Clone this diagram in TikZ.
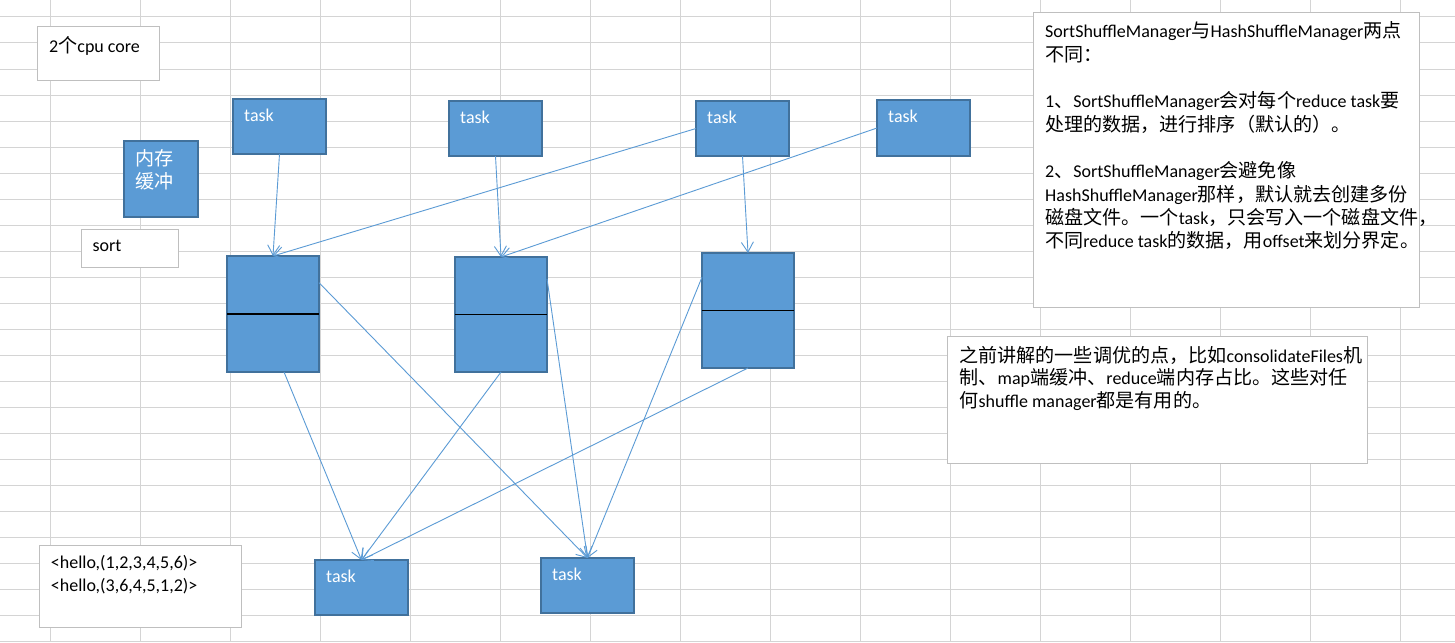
\documentclass[tikz,border=0pt]{standalone}
\usepackage{fontspec}
\setmainfont{Carlito}
\newfontfamily\zhfont{Noto Sans CJK SC}[Scale=1.06]
\newcommand\zh[1]{{\zhfont#1}}
\usetikzlibrary{arrows.meta,calc}
\definecolor{gridc}{HTML}{D4D4D4}
\definecolor{boxfill}{HTML}{5B9BD5}
\definecolor{boxedge}{HTML}{41719C}
\definecolor{noteedge}{HTML}{BFBFBF}
\definecolor{linkc}{HTML}{5B9BD5}
\begin{document}
\begin{tikzpicture}[x=1pt,y=-1pt,
  bluebox/.style={draw=boxedge, fill=boxfill, line width=2pt, rectangle,
    inner sep=0pt, outer sep=0pt, anchor=north west},
  taskbox/.style={bluebox, minimum width=93, minimum height=55},
  bufbox/.style={bluebox, minimum width=92, minimum height=115},
  notebox/.style={draw=noteedge, fill=white, line width=1pt, rectangle,
    inner sep=0pt, outer sep=0pt, anchor=north west},
  onetxt/.style={anchor=base west, inner sep=0pt, font=\fontsize{18}{23}\selectfont},
  tasktxt/.style={onetxt, text=white},
  multitxt/.style={anchor=north west, inner sep=0pt, align=left},
  divider/.style={draw=black, line width=1.2pt},
  link/.style={draw=linkc, line width=0.9pt, -{Straight Barb[length=10pt,width=12pt]}},
]
\useasboundingbox (0,0) rectangle (1455,642);
\fill[white] (0,0) rectangle (1455,642);
% spreadsheet grid
\foreach \k in {0,...,15} \draw[gridc, line width=1pt] ({50+90*\k},0) -- ({50+90*\k},642);
\foreach \k in {0,...,24} \draw[gridc, line width=1pt] (0,{17+26*\k}) -- (1455,{17+26*\k});

% note boxes
\node[notebox, minimum width=122, minimum height=53] (cpu) at (37,27) {};
\node[onetxt] (cpuT) at (49,52.3) {2\zh{个}cpu core};
\node[notebox, minimum width=97, minimum height=38] (sort) at (81,229) {};
\node[onetxt] (sortT) at (92.3,251.7) {sort};
\node[notebox, minimum width=202, minimum height=82] (hello) at (39,545) {};
\node[multitxt, font=\fontsize{18}{22.7}\selectfont] (helloT) at (50.7,550.3)
  {\rule{0pt}{18pt}<hello,(1,2,3,4,5,6)>\\<hello,(3,6,4,5,1,2)>};
\node[notebox, minimum width=386, minimum height=294] (diff) at (1033,13) {};
\node[multitxt, font=\fontsize{18}{23.3}\selectfont] (diffT) at (1045,19.7)
  {\rule{0pt}{18pt}SortShuffleManager\zh{与}HashShuffleManager\zh{两点}\\
   \zh{不同：}\\
   \mbox{}\\
   1\zh{、}SortShuffleManager\zh{会对每个}reduce task\zh{要}\\
   \zh{处理的数据，进行排序（默认的）。}\\
   \mbox{}\\
   2\zh{、}SortShuffleManager\zh{会避免像}\\
   HashShuffleManager\zh{那样，默认就去创建多份}\\
   \zh{磁盘文件。一个}task\zh{，只会写入一个磁盘文件，}\\
   \zh{不同}reduce task\zh{的数据，用}offset\zh{来划分界定。}};
\node[notebox, minimum width=420, minimum height=127] (tune) at (947,336) {};
\node[multitxt, font=\fontsize{18}{22.75}\selectfont] (tuneT) at (959.3,344)
  {\rule{0pt}{18pt}\zh{之前讲解的一些调优的点，比如}consolidateFiles\zh{机}\\
   \zh{制、}map\zh{端缓冲、}reduce\zh{端内存占比。这些对任}\\
   \zh{何}shuffle manager\zh{都是有用的。}};

% memory buffer box
\node[bluebox, minimum width=74, minimum height=76] (mem) at (124,141) {};
\node[multitxt, text=white, font=\fontsize{18}{23.3}\selectfont] (memT) at (135.5,147.4)
  {\rule{0pt}{18pt}\zh{内存}\\\zh{缓冲}};

% map tasks
\node[taskbox] (t1) at (233,99) {};
\node[taskbox] (t2) at (449,101) {};
\node[taskbox] (t3) at (696,101) {};
\node[taskbox, minimum height=56] (t4) at (877,100) {};
\foreach \n in {t1,t2,t3,t4} \node[tasktxt] (\n T) at ([shift={(11,22)}]\n.north west) {task};

% buffers
\node[bufbox, minimum height=116] (b1) at (227,256) {};
\node[bufbox] (b2) at (455,257) {};
\node[bufbox] (b3) at (702,253) {};
\foreach \n in {b1,b2,b3} \draw[divider] (\n.west) -- (\n.east);

% reduce tasks
\node[taskbox] (r1) at (315,560) {};
\node[taskbox] (r2) at (541,558) {};
\foreach \n in {r1,r2} \node[tasktxt] (\n T) at ([shift={(11,22)}]\n.north west) {task};

% connectors
\draw[link] (t1.south) -- (b1.north);
\draw[link] (t3.west) -- (b1.north);
\draw[link] (t2.south) -- (b2.north);
\draw[link] (t4.west) -- (b2.north);
\draw[link] (t3.south) -- (b3.north);
\draw[link] ($(b1.north east)!0.23!(b1.south east)$) -- (r2.north);
\draw[link] ([xshift=11pt]b1.south) -- (r1.north);
\draw[link] (b2.south) -- (r1.north);
\draw[link] ($(b2.north east)!0.19!(b2.south east)$) -- (r2.north);
\draw[link] (b3.south) -- (r1.north);
\draw[link] ($(b3.north west)!0.21!(b3.south west)$) -- (r2.north);
\end{tikzpicture}
\end{document}
